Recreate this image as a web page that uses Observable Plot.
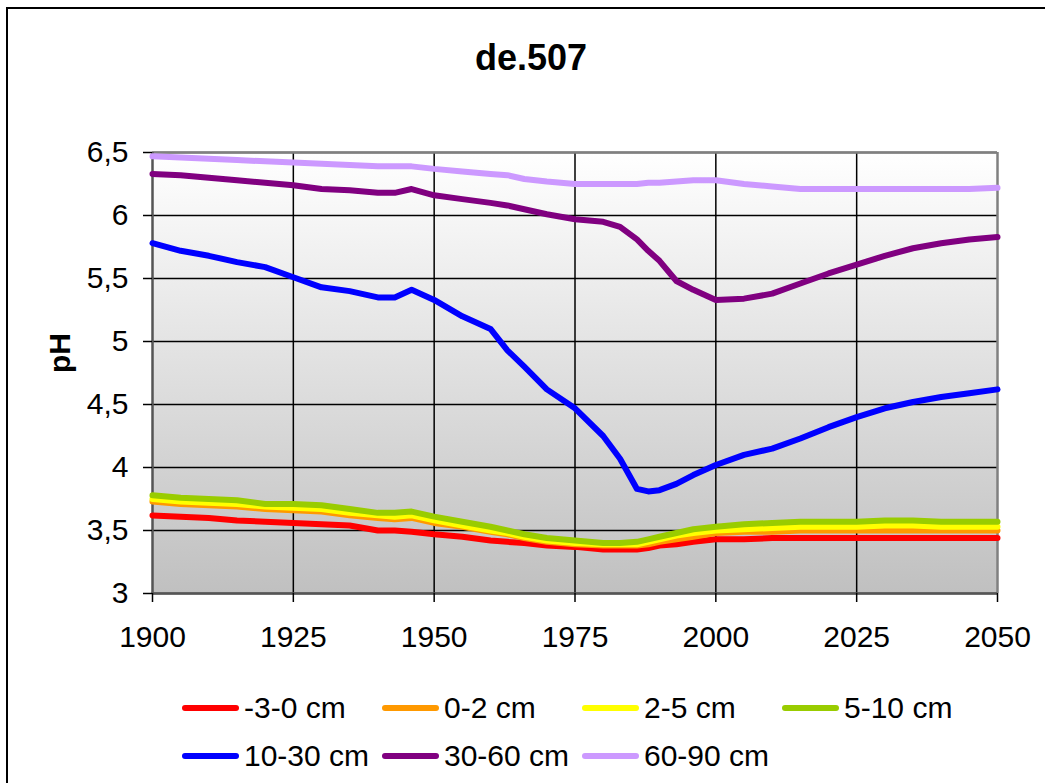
<!DOCTYPE html>
<html>
<head>
<meta charset="utf-8">
<script src="https://cdn.jsdelivr.net/npm/d3@7"></script>
<script src="https://cdn.jsdelivr.net/npm/@observablehq/plot@0.6"></script>
<style>
  html, body { margin: 0; padding: 0; background: #fff; overflow: hidden; }
  #wrap { position: relative; width: 1045px; height: 783px; font-family: "Liberation Sans", Arial, sans-serif; }
  #border { position: absolute; left: 6px; top: 7px; width: 1100px; height: 900px; border-left: 2px solid #000; border-top: 2px solid #000; }
  #title { position: absolute; left: 0; width: 1062px; top: 38px; text-align: center; font-weight: bold; font-size: 36px; line-height: 40px; }
  #chart { position: absolute; left: 0; top: 0; }
  .leg { position: absolute; height: 34px; display: flex; align-items: center; font-size: 30px; white-space: nowrap; }
  .sw { width: 57px; height: 6px; border-radius: 3px; margin-right: 5px; }
</style>
</head>
<body>
<div id="wrap">
  <div id="border"></div>
  <div id="chart"></div>
  <div id="title">de.507</div>
  <div id="legend"></div>
</div>
<script>
// ---- data ----
const years = [1900,1905,1910,1915,1920,1925,1930,1935,1940,1943,1946,1950,1955,1960,1963,1966,1970,1975,1980,1983,1986,1988,1990,1993,1996,2000,2005,2010,2015,2020,2025,2030,2035,2040,2045,2050];

const seriesNames = ["-3-0 cm","0-2 cm","2-5 cm","5-10 cm","10-30 cm","30-60 cm","60-90 cm"];
const seriesColors = ["#FF0000","#FF9900","#FFFF00","#99CC00","#0000FF","#800080","#CC99FF"];

const ph_m3_0 = [3.62,3.61,3.60,3.58,3.57,3.56,3.55,3.54,3.50,3.50,3.49,3.47,3.45,3.42,3.41,3.40,3.38,3.37,3.35,3.35,3.35,3.36,3.38,3.39,3.41,3.43,3.43,3.44,3.44,3.44,3.44,3.44,3.44,3.44,3.44,3.44];
const ph_0_2 = [3.73,3.71,3.70,3.69,3.67,3.66,3.65,3.62,3.60,3.59,3.60,3.56,3.53,3.49,3.47,3.44,3.41,3.39,3.38,3.38,3.38,3.39,3.41,3.43,3.45,3.48,3.49,3.49,3.50,3.50,3.50,3.50,3.50,3.50,3.50,3.50];
const ph_2_5 = [3.75,3.73,3.72,3.71,3.69,3.68,3.67,3.64,3.62,3.61,3.62,3.58,3.54,3.50,3.48,3.45,3.42,3.40,3.39,3.39,3.39,3.41,3.43,3.46,3.48,3.50,3.51,3.52,3.53,3.53,3.53,3.54,3.54,3.53,3.53,3.53];
const ph_5_10 = [3.78,3.76,3.75,3.74,3.71,3.71,3.70,3.67,3.64,3.64,3.65,3.61,3.57,3.53,3.50,3.47,3.44,3.42,3.40,3.40,3.41,3.43,3.45,3.48,3.51,3.53,3.55,3.56,3.57,3.57,3.57,3.58,3.58,3.57,3.57,3.57];
const ph_10_30 = [5.78,5.72,5.68,5.63,5.59,5.51,5.43,5.40,5.35,5.35,5.41,5.33,5.20,5.10,4.93,4.80,4.62,4.47,4.25,4.07,3.83,3.81,3.82,3.87,3.94,4.02,4.10,4.15,4.23,4.32,4.40,4.47,4.52,4.56,4.59,4.62];
const ph_30_60 = [6.33,6.32,6.30,6.28,6.26,6.24,6.21,6.20,6.18,6.18,6.21,6.16,6.13,6.10,6.08,6.05,6.01,5.97,5.95,5.91,5.81,5.72,5.64,5.48,5.41,5.33,5.34,5.38,5.46,5.54,5.61,5.68,5.74,5.78,5.81,5.83];
const ph_60_90 = [6.47,6.46,6.45,6.44,6.43,6.42,6.41,6.40,6.39,6.39,6.39,6.37,6.35,6.33,6.32,6.29,6.27,6.25,6.25,6.25,6.25,6.26,6.26,6.27,6.28,6.28,6.25,6.23,6.21,6.21,6.21,6.21,6.21,6.21,6.21,6.22];

const xTicks = [1900,1925,1950,1975,2000,2025,2050];
const yTicks = [3,3.5,4,4.5,5,5.5,6,6.5];

// ---- build table ----
const allSeries = [ph_m3_0, ph_0_2, ph_2_5, ph_5_10, ph_10_30, ph_30_60, ph_60_90];
const rows = [];
allSeries.forEach((vals, si) => {
  years.forEach((yr, i) => rows.push({series: seriesNames[si], year: yr, ph: vals[i]}));
});

const fmt = d => String(d).replace(".", ",");

const chart = Plot.plot({
  width: 1045,
  height: 783,
  marginLeft: 152,
  marginRight: 48,
  marginTop: 152,
  marginBottom: 190,
  style: {fontFamily: '"Liberation Sans", Arial, sans-serif', fontSize: "30px", color: "#000", background: "transparent", overflow: "visible"},
  x: {domain: [1900, 2050]},
  y: {domain: [3, 6.5]},
  color: {domain: seriesNames, range: seriesColors},
  marks: [
    Plot.frame({fill: "url(#bgGrad)", stroke: null}),
    Plot.gridY(yTicks, {stroke: "#000", strokeOpacity: 1, strokeWidth: 1.5}),
    Plot.gridX(xTicks.slice(1, -1), {stroke: "#000", strokeOpacity: 1, strokeWidth: 1.5}),
    Plot.ruleY([6.5], {stroke: "#808080", strokeWidth: 2.5}),
    Plot.ruleX([2050], {stroke: "#808080", strokeWidth: 2.5}),
    Plot.ruleX([1900], {stroke: "#555", strokeWidth: 2.5}),
    Plot.ruleY([3], {stroke: "#555", strokeWidth: 2.5}),
    Plot.axisY(yTicks, {tickSize: 9, tickPadding: 15, tickFormat: fmt, label: null, stroke: "#000", strokeWidth: 1.5}),
    Plot.axisX(xTicks, {tickSize: 9, tickPadding: 23, tickFormat: d => String(d), label: null, stroke: "#000", strokeWidth: 1.5}),
    Plot.text(["pH"], {frameAnchor: "left", dx: -92, rotate: -90, fontWeight: "bold", fontSize: 30}),
    Plot.line(rows, {x: "year", y: "ph", z: "series", stroke: "series", strokeWidth: 6, strokeLinejoin: "round", strokeLinecap: "round"})
  ]
});

d3.select(chart).insert("defs", ":first-child").html(
  '<linearGradient id="bgGrad" x1="0" y1="0" x2="0" y2="1">' +
  '<stop offset="0" stop-color="#ffffff"/><stop offset="1" stop-color="#c0c0c0"/></linearGradient>'
);
document.getElementById("chart").appendChild(chart);

// ---- legend ----
const legPos = [[182,691],[382,691],[582,691],[782,691],[182,739],[382,739],[582,739]];
const legend = document.getElementById("legend");
seriesNames.forEach((name, i) => {
  const d = document.createElement("div");
  d.className = "leg";
  d.style.left = legPos[i][0] + "px";
  d.style.top = legPos[i][1] + "px";
  const sw = document.createElement("div");
  sw.className = "sw";
  sw.style.background = seriesColors[i];
  d.appendChild(sw);
  const t = document.createElement("span");
  t.textContent = name;
  d.appendChild(t);
  legend.appendChild(d);
});
</script>
</body>
</html>
